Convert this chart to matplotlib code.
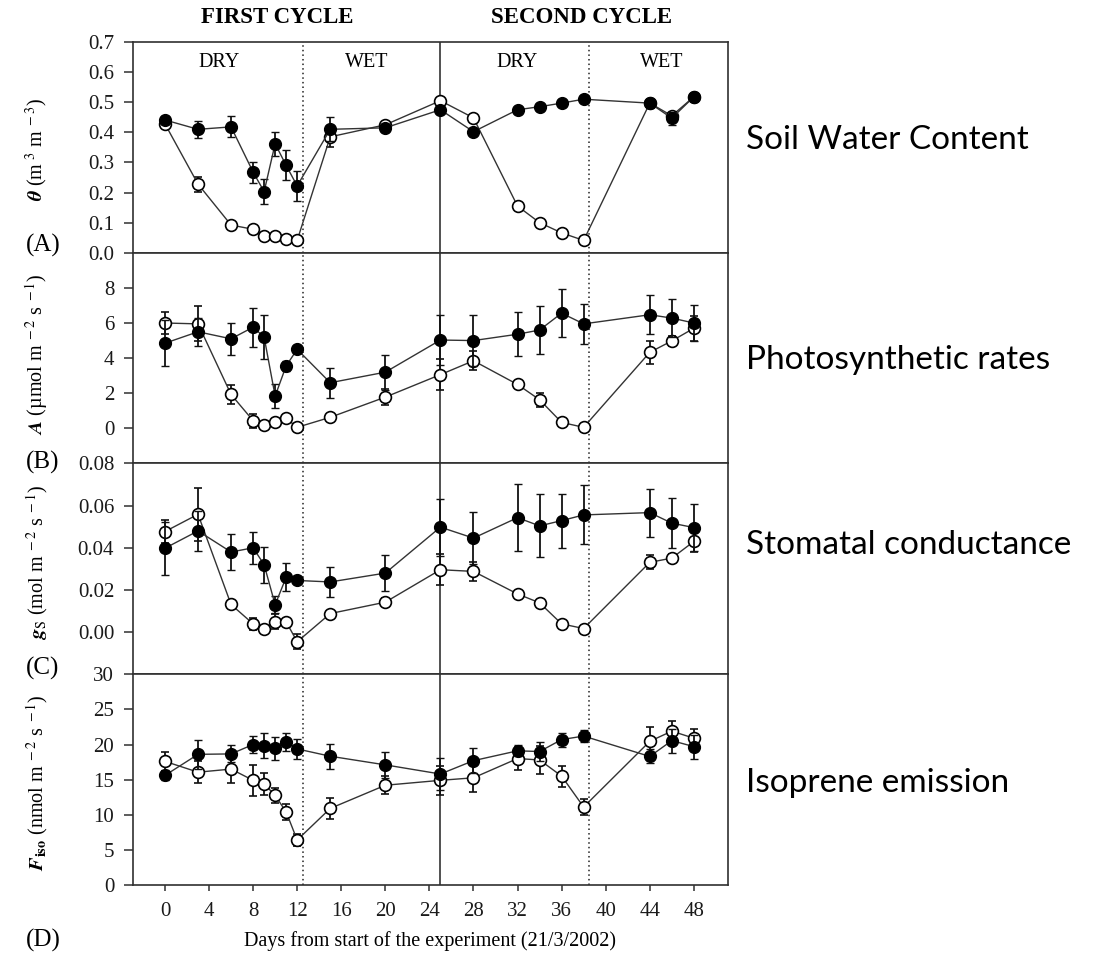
import matplotlib
matplotlib.use("Agg")
import matplotlib.pyplot as plt
import numpy as np

plt.rcParams['font.family'] = ['Liberation Serif', 'DejaVu Serif']
plt.rcParams['mathtext.fontset'] = 'stix'

# ---------------- data ----------------
days = [0, 3, 6, 8, 9, 10, 11, 12, 15, 20, 25, 28, 32, 34, 36, 38, 44, 46, 48]

# (A) soil water content
theta_ctrl = [0.441, 0.41, 0.418, 0.268, 0.203, 0.362, 0.29, 0.222, 0.41, 0.415, 0.475, 0.402, 0.475, 0.485, 0.497, 0.51, 0.497, 0.447, 0.518]
theta_ctrl_err = [0.012, 0.028, 0.035, 0.035, 0.042, 0.04, 0.05, 0.05, 0.04, 0.012, 0.008, 0.008, 0.008, 0.008, 0.008, 0.008, 0.008, 0.022, 0.008]
theta_dry = [0.428, 0.228, 0.092, 0.078, 0.056, 0.055, 0.047, 0.041, 0.385, 0.425, 0.505, 0.448, 0.155, 0.1, 0.066, 0.041, 0.497, 0.455, 0.518]
theta_dry_err = [0.01, 0.025, 0.005, 0.005, 0.005, 0.005, 0.005, 0.005, 0.035, 0.01, 0.008, 0.005, 0.005, 0.005, 0.005, 0.005, 0.005, 0.005, 0.005]

# (B) photosynthetic rates
A_ctrl = [4.85, 5.5, 5.1, 5.76, 5.2, 1.84, 3.56, 4.5, 2.6, 3.2, 5.03, 5.0, 5.36, 5.6, 6.56, 5.95, 6.47, 6.28, 6.0]
A_ctrl_err = [1.3, 0.8, 0.9, 1.1, 1.25, 0.7, 0.3, 0.2, 0.85, 1.0, 1.4, 1.45, 1.25, 1.35, 1.35, 1.15, 1.1, 1.1, 1.0]
A_dry = [6.0, 5.95, 1.93, 0.44, 0.19, 0.34, 0.57, 0.06, 0.63, 1.78, 3.06, 3.85, 2.5, 1.63, 0.34, 0.06, 4.33, 4.98, 5.7]
A_dry_err = [0.65, 1.0, 0.55, 0.4, 0.1, 0.1, 0.1, 0.1, 0.1, 0.45, 0.9, 0.55, 0.15, 0.4, 0.1, 0.1, 0.65, 0.3, 0.7]

# (C) stomatal conductance
gs_ctrl = [0.0398, 0.048, 0.038, 0.040, 0.032, 0.013, 0.026, 0.0245, 0.0238, 0.028, 0.0498, 0.0446, 0.0543, 0.0504, 0.0529, 0.0556, 0.0567, 0.0517, 0.0496]
gs_ctrl_err = [0.0125, 0.0095, 0.0085, 0.0077, 0.0085, 0.004, 0.0067, 0.001, 0.007, 0.0087, 0.0135, 0.0125, 0.016, 0.015, 0.0128, 0.014, 0.0114, 0.012, 0.011]
gs_dry = [0.0477, 0.0559, 0.0131, 0.0039, 0.0016, 0.0049, 0.0049, -0.0046, 0.0088, 0.0142, 0.0296, 0.0288, 0.0181, 0.0139, 0.0039, 0.0017, 0.0331, 0.0351, 0.043]
gs_dry_err = [0.0055, 0.0125, 0.001, 0.003, 0.001, 0.0035, 0.001, 0.0035, 0.001, 0.002, 0.0074, 0.0045, 0.001, 0.0015, 0.001, 0.001, 0.0033, 0.002, 0.005]

# (D) isoprene emission
F_ctrl = [15.6, 18.6, 18.66, 20.0, 19.84, 19.46, 20.4, 19.37, 18.33, 17.1, 15.8, 17.7, 19.1, 19.0, 20.7, 21.2, 18.3, 20.55, 19.7]
F_ctrl_err = [0.7, 2.1, 1.2, 1.2, 1.8, 1.6, 1.3, 1.4, 1.8, 1.9, 2.3, 1.8, 0.8, 1.4, 1.0, 0.9, 1.0, 1.7, 1.7]
F_dry = [17.6, 16.06, 16.5, 14.9, 14.4, 12.75, 10.4, 6.4, 10.9, 14.2, 14.9, 15.26, 18.0, 17.8, 15.5, 11.1, 20.45, 21.9, 20.9]
F_dry_err = [1.4, 1.6, 2.0, 2.2, 1.6, 1.1, 1.2, 0.8, 1.5, 1.3, 2.1, 2.0, 1.7, 2.0, 1.5, 1.2, 2.0, 1.5, 1.3]

x_ticks = list(range(0, 49, 4))
cycle_labels = ["FIRST CYCLE", "SECOND CYCLE"]
phase_labels = ["DRY", "WET", "DRY", "WET"]
panel_letters = ["(A)", "(B)", "(C)", "(D)"]
right_labels = ["Soil Water Content", "Photosynthetic rates", "Stomatal conductance", "Isoprene emission"]
y_labels = [r'$\boldsymbol{\theta}$ (m$^{\ 3}$ m$^{\ -3}$)',
            r'$\boldsymbol{A}$ (µmol m$^{\ -2}$ s$^{\ -1}$)',
            r'$\boldsymbol{g}_{\mathrm{S}}$ (mol m$^{\ -2}$ s$^{\ -1}$)',
            r'$\boldsymbol{F}_{\mathbf{iso}}$ (nmol m$^{\ -2}$ s$^{\ -1}$)']
x_label = "Days from start of the experiment (21/3/2002)"

# ---------------- layout ----------------
W, H = 1094, 955
fig = plt.figure(figsize=(W / 100, H / 100), dpi=100)

left_px, right_px, top_px, bottom_px = 133, 728, 42, 885
ax_left = left_px / W
ax_w = (right_px - left_px) / W
ax_bottom = 1 - bottom_px / H
ax_top = 1 - top_px / H
ph = (ax_top - ax_bottom) / 4

panels = [
    (theta_ctrl, theta_ctrl_err, theta_dry, theta_dry_err, (0, 0.7), np.arange(0, 0.71, 0.1), "{:.1f}"),
    (A_ctrl, A_ctrl_err, A_dry, A_dry_err, (-2, 10), np.arange(0, 8.1, 2), "{:.0f}"),
    (gs_ctrl, gs_ctrl_err, gs_dry, gs_dry_err, (-0.02, 0.08), np.arange(0, 0.081, 0.02), "{:.2f}"),
    (F_ctrl, F_ctrl_err, F_dry, F_dry_err, (0, 30), np.arange(0, 31, 5), "{:.0f}"),
]

frame_col = '#303030'
line_col = '#333333'
axes = []
for i, (c, ce, d, de, ylim, yt, fmt) in enumerate(panels):
    ax = fig.add_axes([ax_left, ax_top - (i + 1) * ph, ax_w, ph])
    axes.append(ax)
    ax.set_xlim(-2.9, 51.1)
    ax.set_ylim(*ylim)
    for s in ax.spines.values():
        s.set_color(frame_col)
        s.set_linewidth(1.2)
    ax.axvline(25, color='#222222', lw=1.1, zorder=1)
    ax.axvline(12.5, color='#222222', lw=1.1, ls=(0, (1, 2)), zorder=1)
    ax.axvline(38.5, color='#222222', lw=1.1, ls=(0, (1, 2)), zorder=1)

    common = dict(fmt='-o', color=line_col, mec='black', ms=8.5, lw=1.0,
                  capsize=3.2, elinewidth=1.3, capthick=1.3, ecolor='#111111')
    ax.errorbar(days, d, yerr=de, mfc='white', mew=1.2, zorder=3, **common)
    ax.errorbar(days, c, yerr=ce, mfc='black', mew=1.0, zorder=4, **common)

    ax.set_yticks(yt)
    ax.set_yticklabels([fmt.format(v) for v in yt])
    ax.tick_params(axis='y', direction='out', length=6.5, width=1.1, color=frame_col,
                   labelsize=15, pad=7, labelcolor='#1a1a1a')
    if i < 3:
        ax.tick_params(axis='x', bottom=False, labelbottom=False)
    else:
        ax.set_xticks(x_ticks)
        ax.tick_params(axis='x', direction='out', length=4, width=1.1, color=frame_col,
                       labelsize=15, pad=8, labelcolor='#1a1a1a')

# headers
axA = axes[0]
for xp, lab in zip([10.2, 37.8], cycle_labels):
    axA.text(xp, 1.114, lab, transform=axA.get_xaxis_transform(), ha='center', va='center',
             fontsize=16.5, fontweight='bold')
for xp, lab in zip([4.9, 18.3, 32.0, 45.1], phase_labels):
    axA.text(xp, 0.632, lab, ha='center', va='center', fontsize=14.5)

# y labels
y_centers = [150, 354, 562, 783]
for yc, lab in zip(y_centers, y_labels):
    fig.text(37 / W, 1 - yc / H, lab, rotation=90, ha='center', va='center', fontsize=14.5)

# panel letters
for yc, lab in zip([245, 462, 668, 940], panel_letters):
    fig.text(43 / W, 1 - yc / H, lab, ha='center', va='center', fontsize=18)

# x label
fig.text((left_px + right_px) / 2 / W, 1 - 941 / H, x_label, ha='center', va='center', fontsize=14.5)

# right annotations
for yc, lab in zip([140, 360, 545, 783], right_labels):
    fig.text(746 / W, 1 - yc / H, lab, ha='left', va='center', fontsize=24,
             family=['Lato', 'DejaVu Sans'])

fig.savefig("out.png", dpi=100)
